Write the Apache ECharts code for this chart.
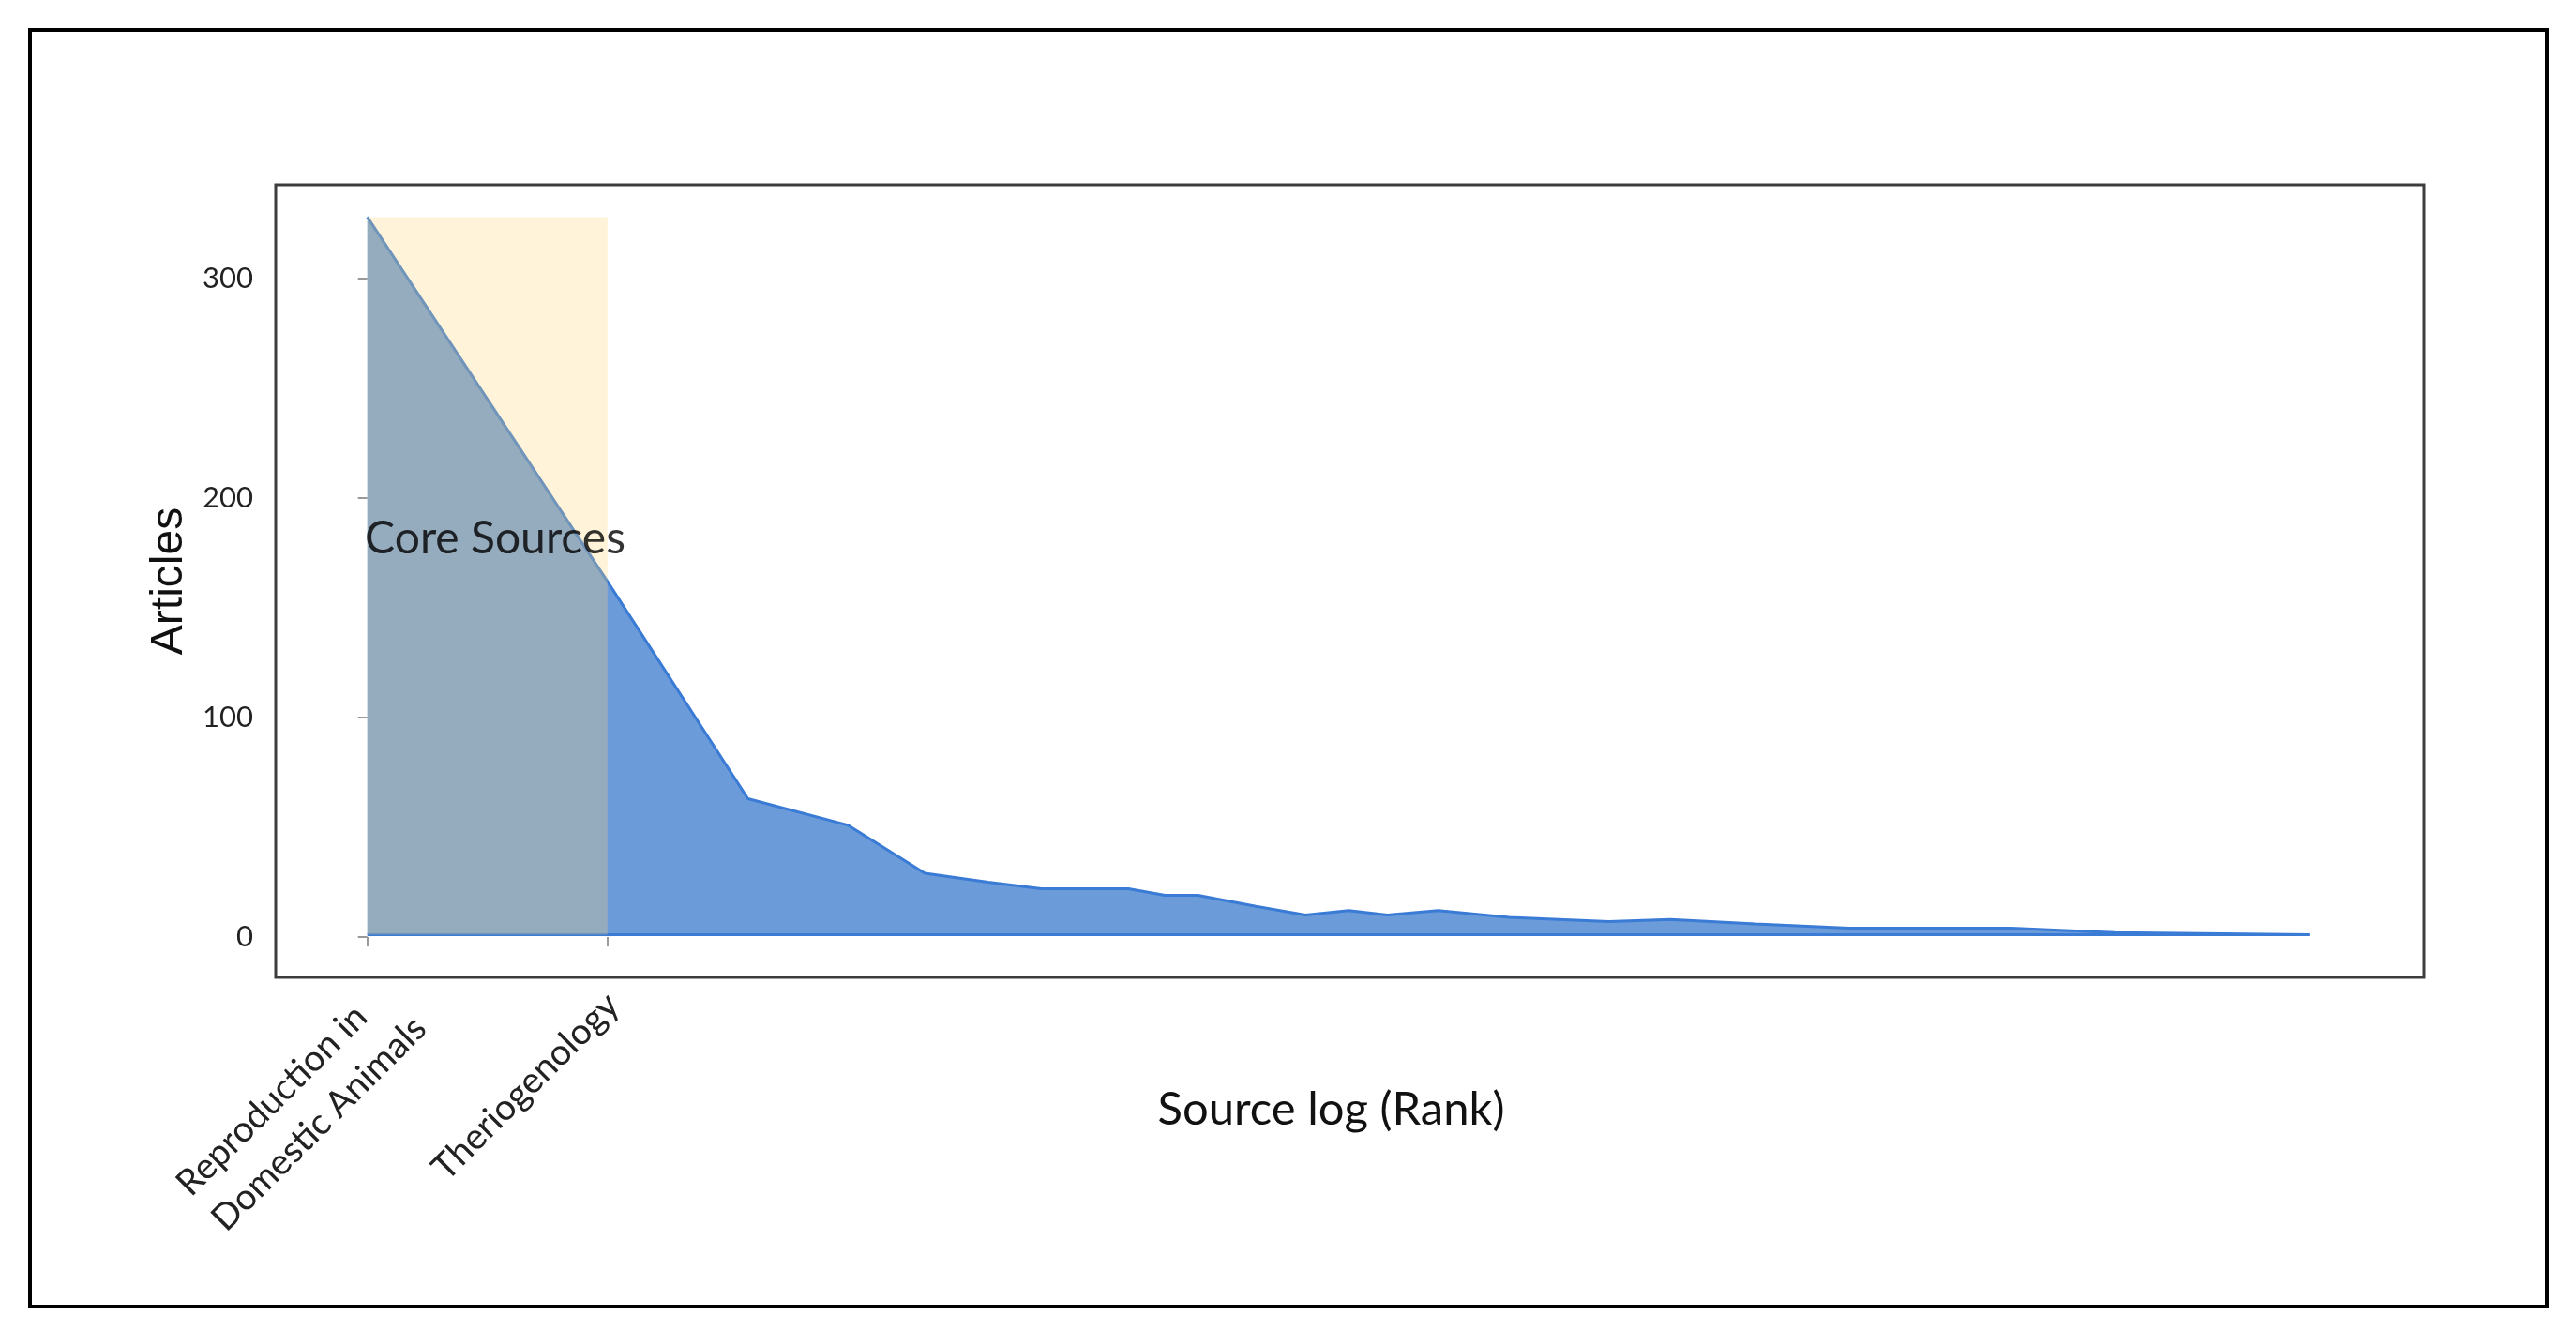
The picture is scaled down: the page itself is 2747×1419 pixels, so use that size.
<!DOCTYPE html>
<html><head><meta charset="utf-8">
<script src="https://cdn.jsdelivr.net/npm/echarts@6/dist/echarts.min.js"></script>
<style>html,body{margin:0;padding:0;background:#fff}#c{width:2747px;height:1419px}</style>
</head><body><div id="c"></div>
<script>
// Source rank (Bradford) and number of articles
const ranks    = [1,   2,   3,  4,  5,  6,  7,  9,  10, 11, 13, 15, 17, 19, 22, 27, 36, 43, 55, 72, 115, 155, 272];
const articles = [328, 162, 63, 51, 29, 25, 22, 22, 19, 19, 14, 10, 12, 10, 12, 9,  7,  8,  6,  4,  4,   2,   1];
const coreSources = ['Reproduction in\nDomestic Animals', 'Theriogenology'];
const coreRanks = [1, 2];
const yTicks = [0, 100, 200, 300];
const baseline = 1;

const FONT = 'Lato';
const lineColor = '#3a7bd5';
const fillColor = '#6b9bd8';

const pts = ranks.map((r, i) => [Math.log(r), articles[i]]);
const coreLogs = coreRanks.map(r => Math.log(r));
const maxArt = Math.max(...articles);
const lastLog = Math.log(ranks[ranks.length - 1]);

const labelTok = {align: 'left', fontFamily: FONT, fontSize: 38.5, lineHeight: 53, color: '#222'};

const chart = echarts.init(document.getElementById('c'), null, {renderer: 'canvas'});
chart.setOption({
  animation: false,
  backgroundColor: '#fff',
  graphic: [{
    type: 'rect', shape: {x: 32, y: 32, width: 2684, height: 1361},
    style: {fill: 'none', stroke: '#000', lineWidth: 4}, z: 100
  }],
  grid: {left: 294, right: 162, top: 197, bottom: 377, show: true,
         borderColor: '#3d3d3d', borderWidth: 3, backgroundColor: 'transparent'},
  xAxis: {
    type: 'value', min: -0.2645, max: 5.937,
    name: 'Source log (Rank)', nameLocation: 'middle', nameGap: 117, nameMoveOverlap: false,
    nameTextStyle: {fontFamily: FONT, fontSize: 49, color: '#111', padding: [0, 40, 0, 0]},
    axisLine: {show: false},
    splitLine: {show: false},
    axisTick: {show: true, length: 10, lineStyle: {color: '#999', width: 2}, customValues: coreLogs},
    axisLabel: {
      customValues: coreLogs, rotate: 45, margin: -8, verticalAlign: 'top',
      fontFamily: FONT, fontSize: 38.5, lineHeight: 53, color: '#222',
      rich: {
        l: labelTok,
        s: Object.assign({}, labelTok, {padding: [0, 18, 0, 0]})
      },
      formatter: v => {
        const i = coreLogs.findIndex(c => Math.abs(c - v) < 1e-6);
        if (i < 0) return '';
        const lines = coreSources[i].split('\n');
        const tag = lines.length > 1 ? 'l' : 's';
        return lines.map(s => '{' + tag + '|' + s + '}').join('\n');
      }
    }
  },
  yAxis: {
    type: 'value', min: -18.4, max: 342.7,
    name: 'Articles', nameLocation: 'middle', nameGap: 88, nameRotate: 90,
    nameTextStyle: {fontFamily: 'Liberation Sans', fontSize: 48, color: '#111'},
    axisLine: {show: false},
    splitLine: {show: false},
    axisTick: {show: true, length: 10, lineStyle: {color: '#999', width: 2}, customValues: yTicks},
    axisLabel: {customValues: yTicks, margin: 24, fontFamily: FONT, fontSize: 31, color: '#222'}
  },
  series: [
    {
      type: 'line', data: pts, symbol: 'none', z: 2,
      lineStyle: {color: lineColor, width: 3},
      areaStyle: {color: fillColor, opacity: 1, origin: baseline}
    },
    {
      type: 'line', data: [[0, baseline], [lastLog, baseline]], symbol: 'none', z: 3,
      lineStyle: {color: lineColor, width: 3}
    },
    {
      // core-sources band drawn over the area
      type: 'line', data: [[coreLogs[0], maxArt], [coreLogs[coreLogs.length - 1], maxArt]],
      symbol: 'none', z: 5, silent: true,
      lineStyle: {width: 0, opacity: 0},
      areaStyle: {color: 'rgba(255,214,120,0.28)', opacity: 1, origin: baseline}
    },
    {
      type: 'scatter', data: [[0.369, 181.4]], symbolSize: 1, z: 10,
      itemStyle: {color: 'rgba(0,0,0,0)'},
      label: {show: true, position: 'inside', formatter: 'Core Sources',
              fontFamily: FONT, fontSize: 48, color: '#000'}
    }
  ]
});
</script></body></html>
